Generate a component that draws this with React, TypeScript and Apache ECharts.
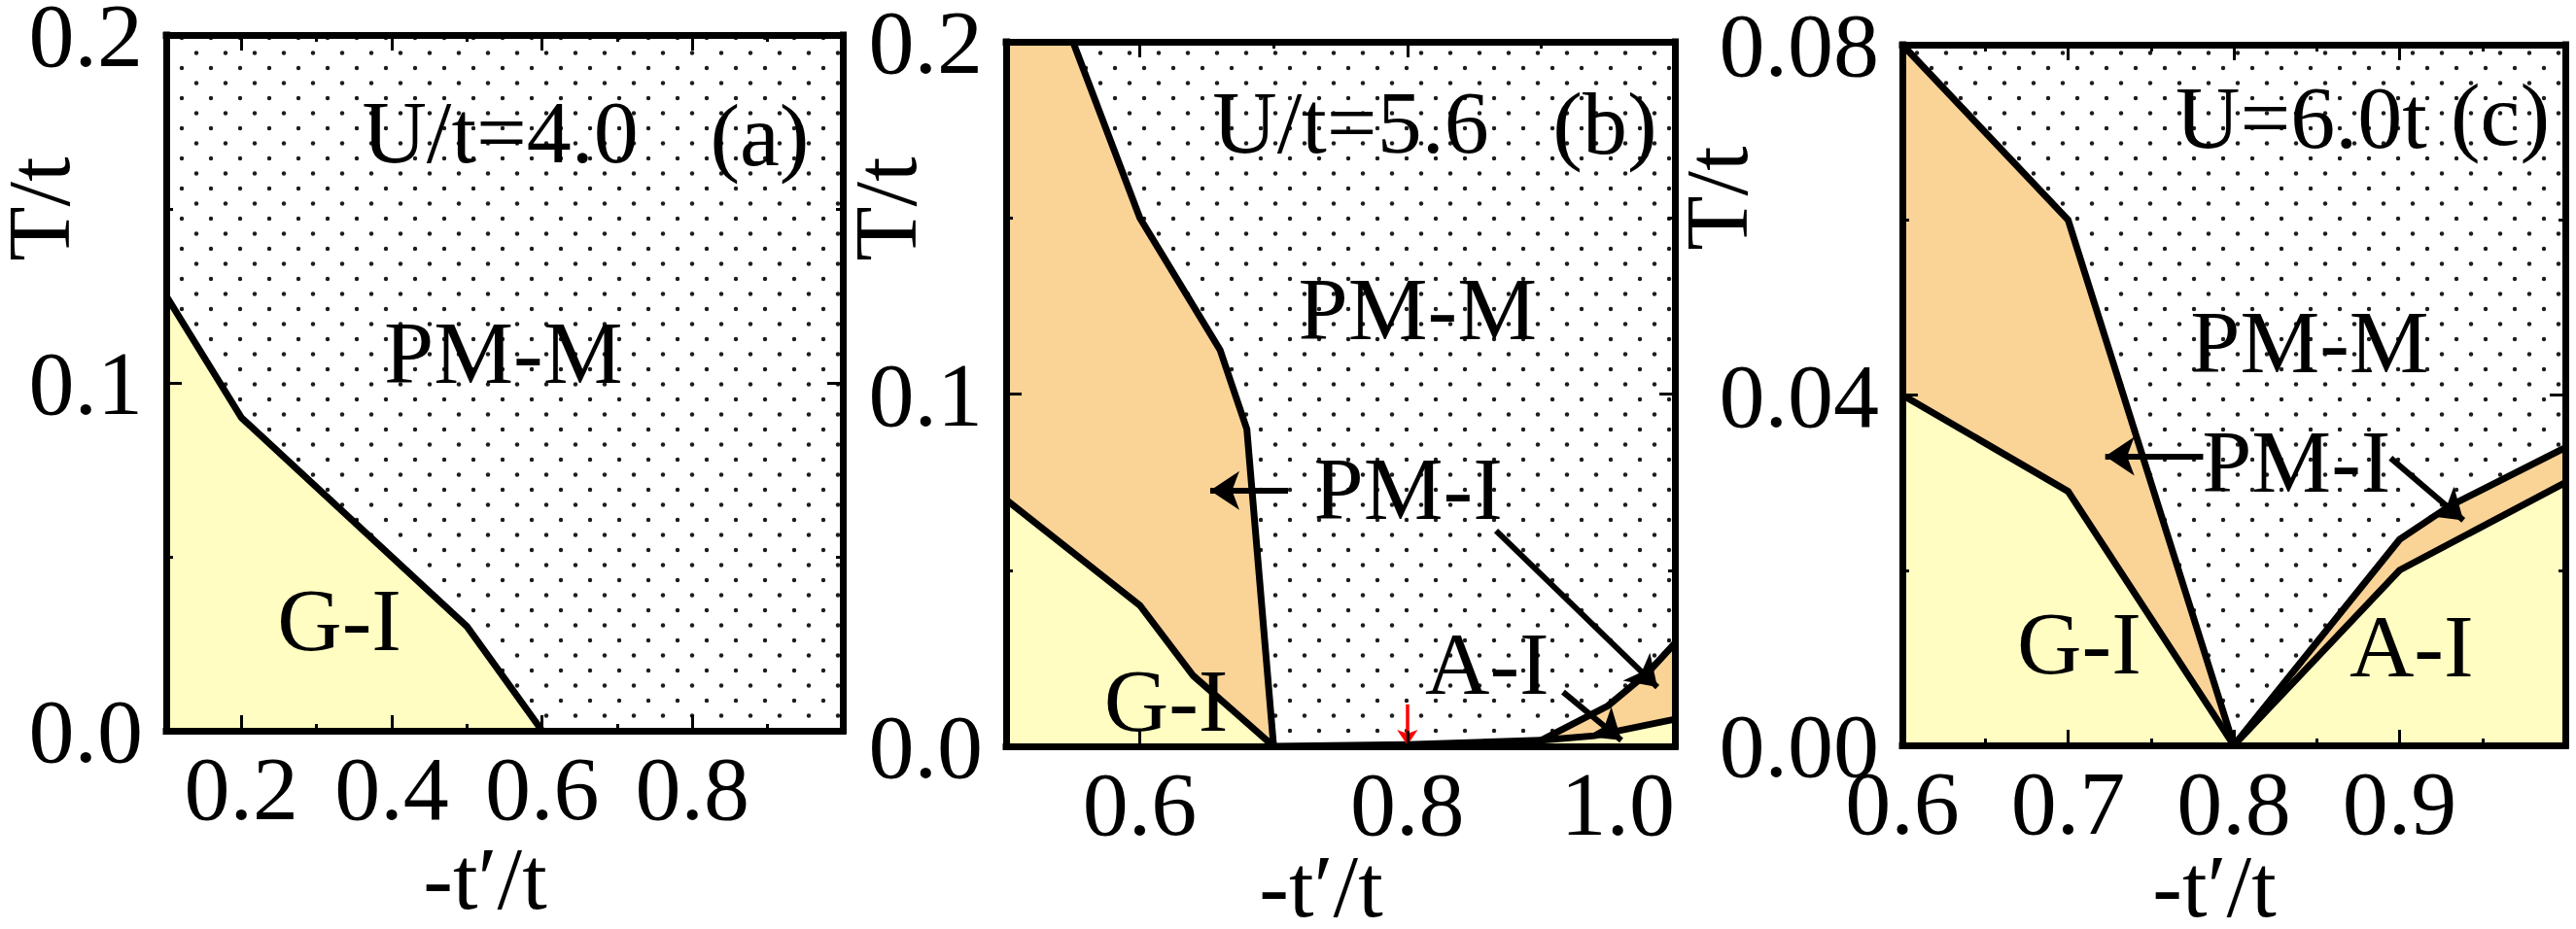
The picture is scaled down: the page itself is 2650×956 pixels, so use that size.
import React, { useEffect, useRef } from "react";
import * as echarts from "echarts";

type Pt = [number, number];

const SERIF = "'Liberation Serif', 'Times New Roman', Times, serif";
const YELLOW = "#FFFDC1";
const ORANGE = "#FAD397";

// ---------- phase-boundary data, points are [-t'/t, T/t] ----------
// (a) U/t = 4.0
const aGI: Pt[] = [[0.1, 0.125], [0.2, 0.09], [0.5, 0.03], [0.6, 0]];

// (b) U/t = 5.6
const bGI: Pt[] = [[0.5, 0.07], [0.6, 0.04], [0.64, 0.02], [0.7, 0]];
const bPMI: Pt[] = [[0.55, 0.2], [0.6, 0.15], [0.66, 0.1125], [0.68, 0.09], [0.7, 0]];
const bFloor: Pt[] = [[0.7, 0], [0.8, 0.0005], [0.9, 0.0017]];
const bPMIHigh: Pt[] = [[0.9, 0.0017], [0.95, 0.0115], [0.98, 0.021], [1.0, 0.0293]];
const bAI: Pt[] = [[0.9, 0.0017], [0.94, 0.003], [1.0, 0.0077]];

// (c) U = 6.0t
const cGI: Pt[] = [[0.6, 0.04], [0.7, 0.029], [0.8, 0]];
const cPMILeft: Pt[] = [[0.6, 0.08], [0.7, 0.06], [0.8, 0]];
const cAI: Pt[] = [[0.8, 0], [0.9, 0.02], [1.0, 0.03]];
const cPMIRight: Pt[] = [[0.8, 0], [0.9, 0.0235], [0.93, 0.0273], [1.0, 0.034]];

// ---------- axis ranges and ticks ----------
const aXRange: Pt = [0.1, 1.0];
const aTRange: Pt = [0, 0.2];
const aXLabels = [0.2, 0.4, 0.6, 0.8];
const aXMajor = [0.2, 0.4, 0.6, 0.8];
const aXMinor = [0.3, 0.5, 0.7, 0.9];
const aTLabels = [0, 0.1, 0.2];
const aTMajor = [0.1];
const aTMinor = [0.05, 0.15];

const bXRange: Pt = [0.5, 1.0];
const bTRange: Pt = [0, 0.2];
const bXLabels = [0.6, 0.8, 1.0];
const bXMajor = [0.6, 0.8];
const bXMinor = [0.7, 0.9];
const bTLabels = [0, 0.1, 0.2];
const bTMajor = [0.1];
const bTMinor = [0.05, 0.15];

const cXRange: Pt = [0.6, 1.0];
const cTRange: Pt = [0, 0.08];
const cXLabels = [0.6, 0.7, 0.8, 0.9];
const cXMajor = [0.7, 0.8, 0.9];
const cXMinor = [0.65, 0.75, 0.85, 0.95];
const cTLabels = [0, 0.04, 0.08];
const cTMajor = [0.04];
const cTMinor = [0.02, 0.06];

const rev = (p: Pt[]): Pt[] => [...p].reverse();

interface Panel {
  grid: { left: number; top: number; width: number; height: number };
  x: Pt;
  t: Pt;
  xLabels: number[];
  xMajor: number[];
  xMinor: number[];
  tLabels: number[];
  tMajor: number[];
  tMinor: number[];
  tDigits: number;
  alignMax?: string;
  nameGap: number;
  title: { x: number; y: number };
  regions: { pts: Pt[]; fill: string }[];
  lines: Pt[][];
  notes: [string, number, number][];
  arrows: [Pt, Pt][];
}

const panels: Panel[] = [
  {
    grid: { left: 171, top: 36, width: 696, height: 716 },
    x: aXRange, t: aTRange,
    xLabels: aXLabels, xMajor: aXMajor, xMinor: aXMinor,
    tLabels: aTLabels, tMajor: aTMajor, tMinor: aTMinor, tDigits: 1,
    nameGap: 112,
    title: { x: 40, y: 215 },
    regions: [{ pts: [[0.1, 0], ...aGI], fill: YELLOW }],
    lines: [aGI],
    notes: [
      ["U/t=4.0", 0.545, 0.172],
      ["(a)", 0.89, 0.171],
      ["PM-M", 0.549, 0.1084],
      ["G-I", 0.331, 0.0316],
    ],
    arrows: [],
  },
  {
    grid: { left: 1035, top: 43, width: 688, height: 725 },
    x: bXRange, t: bTRange,
    xLabels: bXLabels, xMajor: bXMajor, xMinor: bXMinor,
    tLabels: bTLabels, tMajor: bTMajor, tMinor: bTMinor, tDigits: 1,
    alignMax: "right",
    nameGap: 104,
    title: { x: 911, y: 215 },
    regions: [
      { pts: [[0.5, 0], ...bGI], fill: YELLOW },
      { pts: [[0.5, 0.2], ...bPMI, ...rev(bGI)], fill: ORANGE },
      { pts: [...bFloor, ...bAI.slice(1), [1.0, 0]], fill: YELLOW },
      { pts: [...bPMIHigh, ...rev(bAI)], fill: ORANGE },
    ],
    lines: [bGI, bPMI, bFloor, bPMIHigh, bAI],
    notes: [
      ["U/t=5.6", 0.758, 0.177],
      ["(b)", 0.948, 0.1766],
      ["PM-M", 0.808, 0.1239],
      ["PM-I", 0.801, 0.0731],
      ["G-I", 0.62, 0.0127],
      ["A-I", 0.86, 0.0234],
    ],
    arrows: [
      [[0.7108, 0.0726], [0.6526, 0.0726]],
      [[0.8663, 0.0612], [0.9869, 0.0168]],
      [[0.9164, 0.0154], [0.96, 0.0017]],
    ],
  },
  {
    grid: { left: 1957, top: 46, width: 682, height: 721 },
    x: cXRange, t: cTRange,
    xLabels: cXLabels, xMajor: cXMajor, xMinor: cXMinor,
    tLabels: cTLabels, tMajor: cTMajor, tMinor: cTMinor, tDigits: 2,
    nameGap: 105,
    title: { x: 1766, y: 204 },
    regions: [
      { pts: [[0.6, 0], ...cGI], fill: YELLOW },
      { pts: [...cPMILeft, ...rev(cGI)], fill: ORANGE },
      { pts: [...cAI, [1.0, 0]], fill: YELLOW },
      { pts: [...cPMIRight, ...rev(cAI)], fill: ORANGE },
    ],
    lines: [cGI, cPMILeft, cAI, cPMIRight],
    notes: [
      ["U=6.0t", 0.841, 0.0716],
      ["(c)", 0.961, 0.072],
      ["PM-M", 0.846, 0.046],
      ["PM-I", 0.838, 0.0323],
      ["G-I", 0.707, 0.01165],
      ["A-I", 0.9075, 0.0113],
    ],
    arrows: [
      [[0.7815, 0.033], [0.7224, 0.033]],
      [[0.8946, 0.0328], [0.9385, 0.0257]],
    ],
  },
];

// marker arrow in panel (b) at -t'/t = 0.8
const bMarker: [Pt, Pt] = [[0.8, 0.0119], [0.8, 0.0003]];

function dotPattern() {
  const w = 30;
  const h = 31;
  const tile = document.createElement("canvas");
  tile.width = w;
  tile.height = h;
  const ctx = tile.getContext("2d")!;
  ctx.fillStyle = "#ffffff";
  ctx.fillRect(0, 0, w, h);
  ctx.fillStyle = "#1c1c1c";
  [[7, 8], [22, 23.5]].forEach(([x, y]) => {
    ctx.beginPath();
    ctx.arc(x, y, 2.2, 0, Math.PI * 2);
    ctx.fill();
  });
  return { image: tile, repeat: "repeat", imageWidth: w, imageHeight: h };
}

function buildOption(dots: any) {
  const grid: any[] = [];
  const xAxis: any[] = [];
  const yAxis: any[] = [];
  const series: any[] = [];
  const graphic: any[] = [];

  const tickStyle = { color: "#000", width: 3 };
  const lineStyle = { color: "#000", width: 7, cap: "square" };
  const labelFont = { color: "#000", fontFamily: SERIF, fontSize: 94 };

  panels.forEach((p, gi) => {
    grid.push({ ...p.grid, containLabel: false, outerBoundsMode: "none", show: false });
    const base = { gridIndex: gi, type: "value", z: 10, silent: true, splitLine: { show: false }, axisPointer: { show: false } };
    const xr = { min: p.x[0], max: p.x[1] };
    const tr = { min: p.t[0], max: p.t[1] };

    // x axes: bottom (line, long ticks, labels), bottom short ticks, top, top short ticks
    xAxis.push({
      ...base, ...xr, position: "bottom",
      axisLine: { show: true, onZero: false, lineStyle },
      axisTick: { show: true, inside: true, length: 16, customValues: p.xMajor, lineStyle: tickStyle },
      axisLabel: {
        show: true, customValues: p.xLabels, margin: 12, ...labelFont,
        formatter: (v: number) => v.toFixed(1),
        alignMaxLabel: p.alignMax,
      },
      name: "-t′/t", nameLocation: "middle", nameGap: p.nameGap, nameMoveOverlap: false,
      nameTextStyle: { color: "#000", fontFamily: SERIF, fontSize: 92, lineHeight: 80, padding: [0, 40, 0, 0] },
    });
    xAxis.push({
      ...base, ...xr, position: "bottom",
      axisLine: { show: false, onZero: false },
      axisTick: { show: true, inside: true, length: 7, customValues: p.xMinor, lineStyle: tickStyle },
      axisLabel: { show: false },
    });
    xAxis.push({
      ...base, ...xr, position: "top",
      axisLine: { show: true, onZero: false, lineStyle },
      axisTick: { show: true, inside: true, length: 16, customValues: p.xMajor, lineStyle: tickStyle },
      axisLabel: { show: false },
    });
    xAxis.push({
      ...base, ...xr, position: "top",
      axisLine: { show: false, onZero: false },
      axisTick: { show: true, inside: true, length: 7, customValues: p.xMinor, lineStyle: tickStyle },
      axisLabel: { show: false },
    });

    // T axes: left (line, long ticks, labels), left short ticks, right, right short ticks
    yAxis.push({
      ...base, ...tr, position: "left",
      axisLine: { show: true, onZero: false, lineStyle },
      axisTick: { show: true, inside: true, length: 16, customValues: p.tMajor, lineStyle: tickStyle },
      axisLabel: {
        show: true, customValues: p.tLabels, margin: 24, ...labelFont,
        formatter: (v: number) => v.toFixed(p.tDigits),
      },
    });
    yAxis.push({
      ...base, ...tr, position: "left",
      axisLine: { show: false, onZero: false },
      axisTick: { show: true, inside: true, length: 7, customValues: p.tMinor, lineStyle: tickStyle },
      axisLabel: { show: false },
    });
    yAxis.push({
      ...base, ...tr, position: "right",
      axisLine: { show: true, onZero: false, lineStyle },
      axisTick: { show: true, inside: true, length: 16, customValues: p.tMajor, lineStyle: tickStyle },
      axisLabel: { show: false },
    });
    yAxis.push({
      ...base, ...tr, position: "right",
      axisLine: { show: false, onZero: false },
      axisTick: { show: true, inside: true, length: 7, customValues: p.tMinor, lineStyle: tickStyle },
      axisLabel: { show: false },
    });

    const axes = { xAxisIndex: gi * 4, yAxisIndex: gi * 4 };

    const polygon = (pts: Pt[], fill: any, z: number) => ({
      type: "custom", ...axes, silent: true, z, clip: true,
      data: pts,
      renderItem: (params: any, api: any) => {
        if (params.dataIndex !== 0) return null;
        return {
          type: "polygon",
          shape: { points: pts.map((pt) => api.coord(pt)) },
          style: { fill, stroke: null },
        };
      },
    });

    // dotted paramagnetic-metal background over the whole panel
    series.push(polygon([[p.x[0], p.t[0]], [p.x[0], p.t[1]], [p.x[1], p.t[1]], [p.x[1], p.t[0]]], dots, 1));
    p.regions.forEach((r) => series.push(polygon(r.pts, r.fill, 2)));

    p.lines.forEach((pts) =>
      series.push({
        type: "line", ...axes, data: pts, symbol: "none", silent: true, z: 4, clip: false,
        lineStyle: { color: "#000", width: 7, join: "miter" },
      })
    );

    if (p.arrows.length) {
      series.push({
        type: "lines", coordinateSystem: "cartesian2d", ...axes, silent: true, z: 6,
        symbol: ["none", "arrow"], symbolSize: 30,
        lineStyle: { color: "#000", width: 6, opacity: 1, curveness: 0 },
        data: p.arrows.map((s) => ({ coords: s })),
      });
    }

    series.push({
      type: "scatter", ...axes, silent: true, z: 7, symbolSize: 1,
      itemStyle: { color: "rgba(255,255,255,0)" },
      data: p.notes.map(([name, x, t]) => ({ name, value: [x, t] })),
      label: {
        show: true, position: [0, 0], align: "center", verticalAlign: "middle", formatter: "{b}",
        color: "#000", fontFamily: SERIF, fontSize: 92, textBorderWidth: 0, opacity: 1,
      },
    });

    graphic.push({
      type: "text", x: p.title.x, y: p.title.y, rotation: Math.PI / 2, silent: true,
      style: {
        text: "T/t", fill: "#000", fontFamily: SERIF, fontSize: 92, lineHeight: 70,
        align: "center", verticalAlign: "middle",
      },
    });
  });

  series.push({
    type: "lines", coordinateSystem: "cartesian2d", xAxisIndex: 4, yAxisIndex: 4, silent: true, z: 6,
    symbol: ["none", "arrow"], symbolSize: 16,
    lineStyle: { color: "#ff0000", width: 3.5, opacity: 1, curveness: 0 },
    data: [{ coords: bMarker }],
  });

  return {
    animation: false,
    backgroundColor: "#ffffff",
    grid,
    xAxis,
    yAxis,
    series,
    graphic,
  };
}

export default function App() {
  const ref = useRef<HTMLDivElement>(null);

  useEffect(() => {
    if (!ref.current) return;
    const chart = echarts.init(ref.current, null, { renderer: "svg", width: 2650, height: 956 });
    chart.setOption(buildOption(dotPattern()) as any);
    return () => chart.dispose();
  }, []);

  return (
    <div
      ref={ref}
      style={{ position: "fixed", left: 0, top: 0, width: 2650, height: 956, background: "#fff" }}
    />
  );
}
